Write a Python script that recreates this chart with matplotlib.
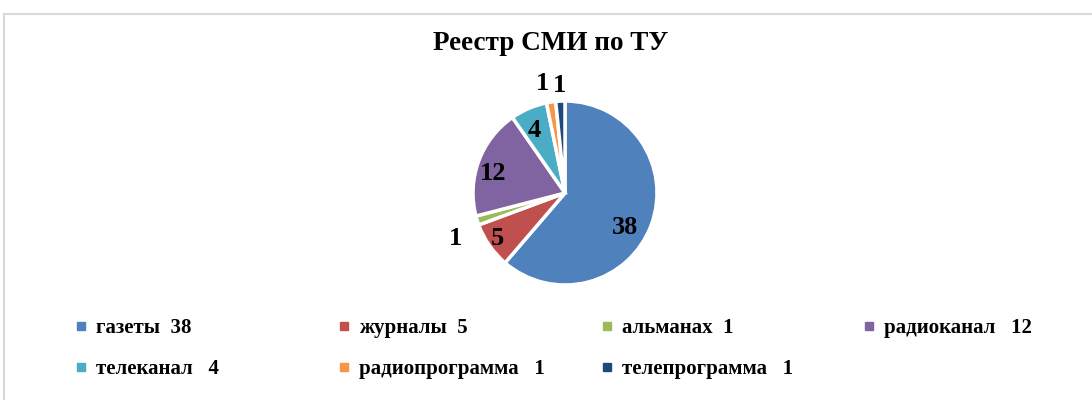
import matplotlib
matplotlib.use("Agg")
import matplotlib.pyplot as plt
from matplotlib.lines import Line2D
from matplotlib.patches import Rectangle
import numpy as np

categories = ["газеты", "журналы", "альманах", "радиоканал", "телеканал", "радиопрограмма", "телепрограмма"]
values = [38, 5, 1, 12, 4, 1, 1]
legend_labels = ["газеты  38", "журналы  5", "альманах  1", "радиоканал   12",
                 "телеканал   4", "радиопрограмма   1", "телепрограмма   1"]
title = "Реестр СМИ по ТУ"

colors = ["#4F81BD", "#C0504D", "#9BBB59", "#8064A2", "#4BACC6", "#F79646", "#1F497D"]
label_dist = [0.75, 0.88, 1.29, 0.81, 0.75, 1.22, 1.17]
label_turn = [-10, -1, 5, 4.8, 2.8, 3, -0.2]

W, H = 1092, 400
fig = plt.figure(figsize=(W / 100, H / 100), dpi=100)
plt.rcParams['font.family'] = ['Liberation Serif', 'DejaVu Serif']

# chart frame
fig.patches.append(Rectangle((4 / W, -0.1), 1.2, (H - 14) / H + 0.1, transform=fig.transFigure,
                             fill=False, edgecolor="#d9d9d9", linewidth=1.5))

ax = fig.add_axes([0, 0, 1, 1])
cx, cy, r = 565, H - 193, 92
wedges, _ = ax.pie(values, colors=colors, startangle=90, counterclock=False,
                   center=(cx, cy), radius=r, frame=True,
                   wedgeprops=dict(edgecolor="white", linewidth=2.5))
ax.set_xlim(0, W)
ax.set_ylim(0, H)
ax.set_aspect('equal')
ax.axis('off')

for w, v, d, t in zip(wedges, values, label_dist, label_turn):
    ang = np.deg2rad((w.theta1 + w.theta2) / 2 + t)
    ax.text(cx + r * d * np.cos(ang), cy + r * d * np.sin(ang), str(v),
            ha='center', va='center', fontsize=19, fontweight='bold', color='black')

fig.text(0.5045, 1 - 44 / H, title, ha='center', va='center', fontsize=19.5, fontweight='bold')

handles = [Line2D([], [], marker='s', linestyle='none', markersize=5.5,
                  markerfacecolor=c, markeredgecolor=c) for c in colors]
col_x = [76, 339, 602, 864]
for c in range(4):
    idx = [i for i in (c, c + 4) if i < len(values)]
    fig.legend([handles[i] for i in idx], [legend_labels[i] for i in idx],
               loc='upper left', bbox_to_anchor=(col_x[c] / W, 1 - 318 / H),
               frameon=False, ncol=1, handlelength=0.5, handletextpad=0.45,
               borderaxespad=0, borderpad=0, labelspacing=1.03,
               prop=dict(family='Liberation Serif', weight='bold', size=15))

fig.savefig("out.png", dpi=100, facecolor="white")
